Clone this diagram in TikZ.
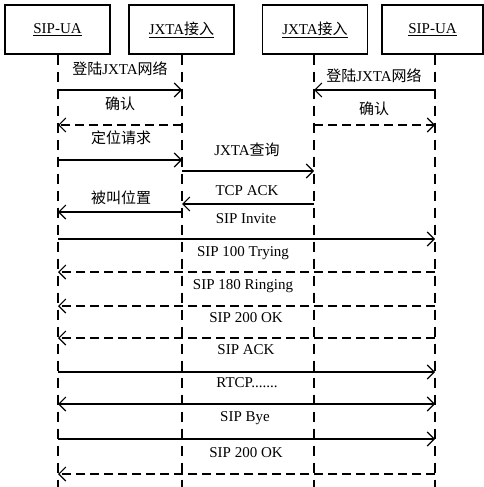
\documentclass[tikz,border=0pt]{standalone}
\usepackage{fontspec}
\setmainfont{Liberation Serif}
\newfontfamily\cjk{Noto Sans CJK SC}
\usetikzlibrary{arrows.meta}
\tikzset{
  actor/.style={draw, line width=1.1pt, minimum width=105pt, minimum height=49pt, inner sep=0pt, font=\rmfamily\fontsize{15}{17}\selectfont},
  life/.style={line width=1.1pt, dash pattern=on 10pt off 7pt},
  tip/.tip={Straight Barb[length=7pt,width=14pt,line width=1.1pt]},
  msg/.style={line width=1.1pt, -tip},
  reply/.style={msg, dash pattern=on 9pt off 5pt},
  lbl/.style={inner sep=0pt, font=\rmfamily\fontsize{15}{17}\selectfont},
}
\begin{document}
\begin{tikzpicture}[x=1pt,y=-1pt]
\useasboundingbox (0,0) rectangle (484,487);
% actors
\node[actor] (b1) at (57.5,29.5) {\underline{SIP-UA}};
\node[actor] (b2) at (181.5,29.5) {\underline{JXTA{\cjk 接入}}};
\node[actor] (b3) at (315,29.5) {\underline{JXTA{\cjk 接入}}};
\node[actor, minimum width=101pt] (b4) at (432.5,29.5) {\underline{SIP-UA}};
% lifeline anchors
\coordinate (L1) at (58,487);
\coordinate (L2) at (182,487);
\coordinate (L3) at (314,487);
\coordinate (L4) at (435,487);
\draw[life] (b1.south -| L1) -- (L1);
\draw[life] (b2.south -| L2) -- (L2);
\draw[life] (b3.south -| L3) -- (L3);
\draw[life] (b4.south -| L4) -- (L4);
% messages
\draw[msg]   (L1 |- 0,90)  -- (L2 |- 0,90);
\draw[reply] (L2 |- 0,125) -- (L1 |- 0,125);
\draw[msg]   (L4 |- 0,90)  -- (L3 |- 0,90);
\draw[reply] (L3 |- 0,125) -- (L4 |- 0,125);
\draw[msg]   (L1 |- 0,160) -- (L2 |- 0,160);
\draw[msg]   (L2 |- 0,171) -- (L3 |- 0,171);
\draw[msg]   (L3 |- 0,204) -- (L2 |- 0,204);
\draw[msg]   (L2 |- 0,212) -- (L1 |- 0,212);
\draw[msg]   (L1 |- 0,239) -- (L4 |- 0,239);
\draw[reply] (L4 |- 0,272) -- (L1 |- 0,272);
\draw[reply] (L4 |- 0,306) -- (L1 |- 0,306);
\draw[reply] (L4 |- 0,338) -- (L1 |- 0,338);
\draw[msg]   (L1 |- 0,372) -- (L4 |- 0,372);
\draw[msg, line width=1.6pt, tip-tip] (L1 |- 0,404) -- (L4 |- 0,404);
\draw[msg]   (L1 |- 0,439) -- (L4 |- 0,439);
\draw[reply] (L4 |- 0,474) -- (L1 |- 0,474);
% labels
\node[lbl] (t1) at (120,69) {{\cjk 登陆}JXTA{\cjk 网络}};
\node[lbl] (t2) at (120,104) {\cjk 确认};
\node[lbl] (t3) at (374,76) {{\cjk 登陆}JXTA{\cjk 网络}};
\node[lbl] (t4) at (374,109) {\cjk 确认};
\node[lbl] (t5) at (121,138) {\cjk 定位请求};
\node[lbl] (t6) at (247,150) {JXTA{\cjk 查询}};
\node[lbl] (t7) at (247,191) {TCP ACK};
\node[lbl] (t8) at (121,198) {\cjk 被叫位置};
\node[lbl] (t9) at (246,219) {SIP Invite};
\node[lbl] (t10) at (243,253) {SIP 100 Trying};
\node[lbl] (t11) at (243,286) {SIP 180 Ringing};
\node[lbl] (t12) at (246,318) {SIP 200 OK};
\node[lbl] (t13) at (246,350) {SIP ACK};
\node[lbl] (t14) at (247,383) {RTCP.......};
\node[lbl] (t15) at (245,418) {SIP Bye};
\node[lbl] (t16) at (246,453) {SIP 200 OK};
\end{tikzpicture}
\end{document}
